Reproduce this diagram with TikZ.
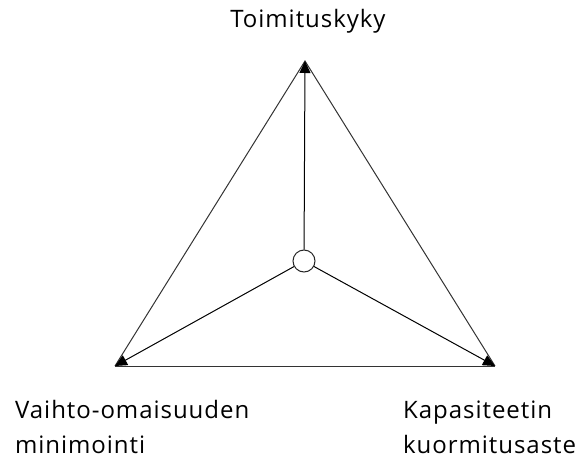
\documentclass[tikz,border=0pt]{standalone}
\usepackage{fontspec}
\setmainfont[LetterSpace = 4]{Open Sans}
\usetikzlibrary{arrows.meta}

\begin{document}
\begin{tikzpicture}[x = 1pt, y = -1pt,
  edge/.style = {color = black!80, line width = 1pt},
  spoke/.style = {black, line width = 1pt, -{Triangle[length = 12pt, width = 11pt]}},
  label/.style = {font = \fontsize{24}{35}\selectfont, inner sep = 0pt, align = left}]
\useasboundingbox (0,0) rectangle (579,464);
\coordinate (top) at (305,61);
\coordinate (left) at (115,366);
\coordinate (right) at (495,366);
\node [circle, draw, black!85, line width = 1pt, fill = white, minimum size = 22pt, inner sep = 0pt] (hub) at (304,261) {};
\draw [edge] (left) -- (top) -- (right);
\draw [edge] (left) -- (right);
\draw [spoke] (hub) -- (top);
\draw [spoke] (hub) -- (left);
\draw [spoke] (hub) -- (right);
\node [label, anchor = base] (t) at (308,27) {Toimituskyky};
\node [label, anchor = base west] (v) at (15,453) {Vaihto-omaisuuden\\minimointi};
\node [label, anchor = base west] (k) at (403,453) {Kapasiteetin\\kuormitusaste};
\end{tikzpicture}
\end{document}
